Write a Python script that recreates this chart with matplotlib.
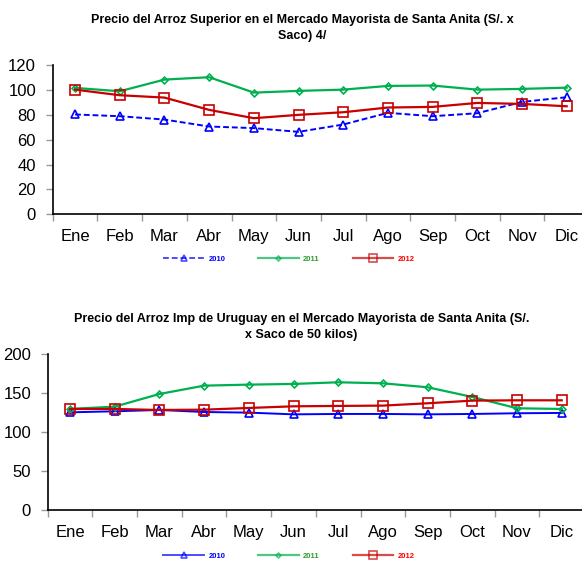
import numpy as np
import matplotlib
matplotlib.use("Agg")
import matplotlib.pyplot as plt
from matplotlib.ticker import FixedLocator

plt.rcParams['font.family'] = ['Liberation Sans', 'DejaVu Sans']

meses = ["Ene", "Feb", "Mar", "Abr", "May", "Jun", "Jul", "Ago", "Sep", "Oct", "Nov", "Dic"]
anios = ["2010", "2011", "2012"]

# Arroz Superior (S/. x saco)
sup_2010 = [80.4, 79.0, 76.3, 70.7, 69.4, 66.4, 72.3, 81.7, 79.0, 81.4, 90.5, 94.3]
sup_2011 = [101.8, 99.1, 108.5, 110.4, 98.0, 99.4, 100.4, 103.4, 103.7, 100.4, 101.0, 102.0]
sup_2012 = [100.4, 95.9, 94.0, 84.1, 77.4, 80.1, 82.2, 86.0, 86.5, 89.7, 88.9, 87.0]

# Arroz Imp de Uruguay (S/. x saco de 50 kilos)
uru_2010 = [125.6, 126.9, 128.6, 126.0, 125.2, 123.0, 123.5, 123.5, 123.0, 123.5, 124.4, 124.8]
uru_2011 = [129.9, 132.9, 149.1, 159.8, 161.1, 162.0, 164.1, 162.8, 157.7, 145.3, 130.8, 129.9]
uru_2012 = [129.9, 129.9, 128.6, 129.0, 131.2, 133.3, 133.8, 134.2, 137.2, 140.6, 141.0, 141.0]

titulo_sup = "Precio del Arroz Superior en el Mercado Mayorista de Santa Anita (S/. x\nSaco) 4/"
titulo_uru = "Precio del Arroz Imp de Uruguay en el Mercado Mayorista de Santa Anita (S/.\nx Saco de 50 kilos)"

azul, verde, rojo = "#0000FF", "#00B050", "#C80000"
txt_col = ["#0000FF", "#339933", "#FF0000"]

fig = plt.figure(figsize=(5.82, 5.62), dpi=100)
ax1 = fig.add_axes([0.0906, 0.6187, 0.9215, 0.2651])
ax2 = fig.add_axes([0.0820, 0.0920, 0.9215, 0.2776])

x = np.arange(len(meses))


def draw(ax, s10, s11, s12, ls10, ymax, ystep):
    l1, = ax.plot(x, s10, color=azul, ls=ls10, lw=1.4, marker="^", ms=5.5,
                  mfc="none", mec=azul, mew=1.2)
    l2, = ax.plot(x, s11, color=verde, lw=1.6, marker="D", ms=3.5,
                  mfc="none", mec=verde, mew=1.2)
    l3, = ax.plot(x, s12, color=rojo, lw=1.6, marker="s", ms=7.5,
                  mfc="none", mec=rojo, mew=1.2)
    ax.set_xlim(-0.5, len(meses) - 0.5)
    ax.set_ylim(0, ymax)
    ax.set_yticks(np.arange(0, ymax + 1, ystep))
    ax.set_xticks(x)
    ax.set_xticklabels(meses)
    ax.xaxis.set_minor_locator(FixedLocator(np.arange(-0.5, len(meses), 1.0)))
    ax.tick_params(axis="x", which="major", length=0, pad=10.5, labelsize=12)
    ax.tick_params(axis="x", which="minor", length=5, color="#999999", width=1)
    ax.tick_params(axis="y", length=5, color="#999999", width=1, pad=7, labelsize=12)
    for s in ("top", "right"):
        ax.spines[s].set_visible(False)
    ax.spines["left"].set_linewidth(1.2)
    ax.spines["bottom"].set_linewidth(1.2)
    return [l1, l2, l3]


def leyenda(handles, y):
    leg = fig.legend(handles, anios, loc="center", bbox_to_anchor=(0.4966, y),
                     ncol=3, frameon=False, handlelength=5.3, handletextpad=0.6,
                     columnspacing=4.3, borderpad=0, markerscale=0.7,
                     prop={"size": 5.5, "weight": "bold"})
    for t, c in zip(leg.get_texts(), txt_col):
        t.set_color(c)
    for h in leg.legend_handles:
        h.set_alpha(0.7)


h1 = draw(ax1, sup_2010, sup_2011, sup_2012, (0, (3, 1.5)), 120, 20)
h2 = draw(ax2, uru_2010, uru_2011, uru_2012, "-", 200, 50)

leyenda(h1, 0.5386)
leyenda(h2, 0.0107)

fam_titulo = ["Liberation Sans Narrow", "Liberation Sans", "DejaVu Sans"]
fig.text(0.519, 0.9505, titulo_sup, ha="center", va="center", multialignment="center",
         fontsize=9, fontweight="bold", family=fam_titulo, linespacing=1.45)
fig.text(0.518, 0.4183, titulo_uru, ha="center", va="center", multialignment="center",
         fontsize=9, fontweight="bold", family=fam_titulo, linespacing=1.45)

fig.savefig("out.png", dpi=100)
